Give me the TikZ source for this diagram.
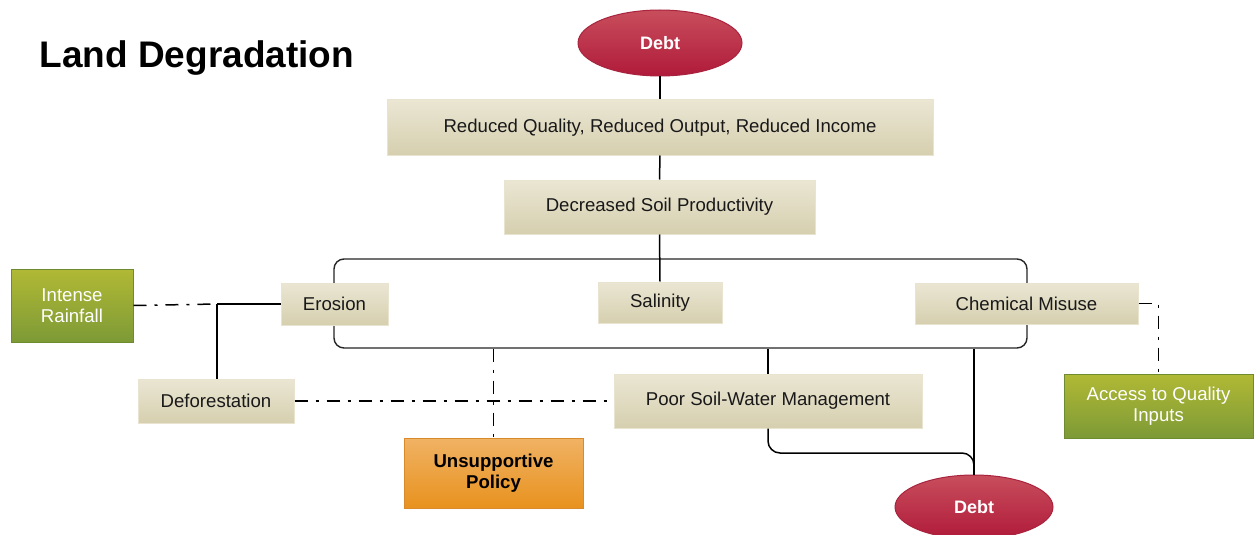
\documentclass[tikz,border=0pt]{standalone}
\usepackage{fontspec}
\setmainfont{Liberation Sans}
\usetikzlibrary{shapes.geometric}
\definecolor{beigeT}{HTML}{EAE6D3}
\definecolor{beigeB}{HTML}{D6CFAF}
\definecolor{beigeD}{HTML}{E9E4CF}
\definecolor{greenT}{HTML}{B1B935}
\definecolor{greenB}{HTML}{7D9A36}
\definecolor{greenD}{HTML}{6F8B2F}
\definecolor{orT}{HTML}{F0B264}
\definecolor{orB}{HTML}{E8921E}
\definecolor{orD}{HTML}{D98A2A}
\definecolor{redT}{HTML}{C84E5C}
\definecolor{redB}{HTML}{B01A3A}
\definecolor{redD}{HTML}{A8243E}
\tikzset{
  beigebox/.style={rectangle, draw=beigeD, line width=1pt, top color=beigeT, bottom color=beigeB, font=\fontsize{18.6}{21}\selectfont, text=black!90, align=center, inner sep=0pt},
  greenbox/.style={rectangle, draw=greenD, line width=1pt, top color=greenT, bottom color=greenB, font=\fontsize{18.6}{21}\selectfont, text=white, align=center, inner sep=0pt},
  orangebox/.style={rectangle, draw=orD, line width=1pt, top color=orT, bottom color=orB, font=\fontsize{18.6}{21}\selectfont\bfseries, text=black, align=center, inner sep=0pt},
  debtnode/.style={ellipse, draw=redD, line width=1pt, top color=redT, bottom color=redB, font=\fontsize{18}{21}\selectfont\bfseries, text=white, inner sep=0pt},
  conn/.style={draw=black, line width=1.5pt},
  dd/.style={draw=black, line width=1.5pt, dash pattern=on 13pt off 8pt on 3pt off 8pt},
  grpbox/.style={rectangle, draw=black!85, line width=1.4pt, rounded corners=10pt, fill=none}
}
\begin{document}
\begin{tikzpicture}[x=1pt,y=-1pt]
\useasboundingbox[fill=white] (0,0) rectangle (1254,535);

\node[anchor=west, font=\fontsize{37}{42}\selectfont\bfseries] (title) at (36,58) {Land Degradation};

\node[grpbox, minimum width=693pt, minimum height=89pt] (grp) at (680.5,303.5) {};

\node[debtnode, minimum width=164pt, minimum height=66pt] (debt1) at (660,43) {Debt};
\node[beigebox, minimum width=546pt, minimum height=55pt] (rq) at (660,127.5) {Reduced Quality, Reduced Output, Reduced Income};
\node[beigebox, minimum width=311pt, minimum height=54pt] (dsp) at (659.5,207) {Decreased Soil Productivity};

\node[beigebox, minimum width=107pt, minimum height=42pt] (ero) at (334.5,304) {Erosion};
\node[beigebox, minimum width=124pt, minimum height=41pt] (sal) at (660,302.5) {Salinity};
\node[beigebox, minimum width=223pt, minimum height=41pt] (cm) at (1026.5,303.5) {Chemical Misuse};

\node[greenbox, minimum width=122pt, minimum height=73pt] (ir) at (72,305.5) {Intense\\Rainfall};
\node[beigebox, minimum width=156pt, minimum height=44pt] (def) at (216,401) {Deforestation};
\node[beigebox, minimum width=308pt, minimum height=54pt] (psw) at (768,401) {Poor Soil-Water Management};
\node[orangebox, minimum width=179pt, minimum height=70pt] (up) at (493.5,473) {Unsupportive\\Policy};
\node[greenbox, minimum width=189pt, minimum height=64pt] (acc) at (1158.5,406) {Access to Quality\\Inputs};
\node[debtnode, minimum width=158pt, minimum height=64pt] (debt2) at (974,507) {Debt};

\coordinate (j1) at (217,304);
\coordinate (c2) at (974,453);

\draw[conn] (debt1.south) -- (rq.north);
\draw[conn] (rq.south) -- (dsp.north);
\draw[conn] (dsp.south) -- (sal.north);
\draw[dd] (ir.east) -- (j1);
\draw[conn] (j1) -- (ero.west);
\draw[conn] (j1) -- (j1 |- def.north);
\draw[dd] (def.east) -- (psw.west);
\draw[dd] (grp.south -| up.north) -- (up.north);
\draw[conn] (psw.north) -- (grp.south -| psw.north);
\draw[conn] (grp.south -| debt2.north) -- (debt2.north);
\draw[conn, rounded corners=12pt] (psw.south) |- (c2) -- (debt2.north);
\draw[dd] (cm.east) -| (acc.north);
\end{tikzpicture}
\end{document}
